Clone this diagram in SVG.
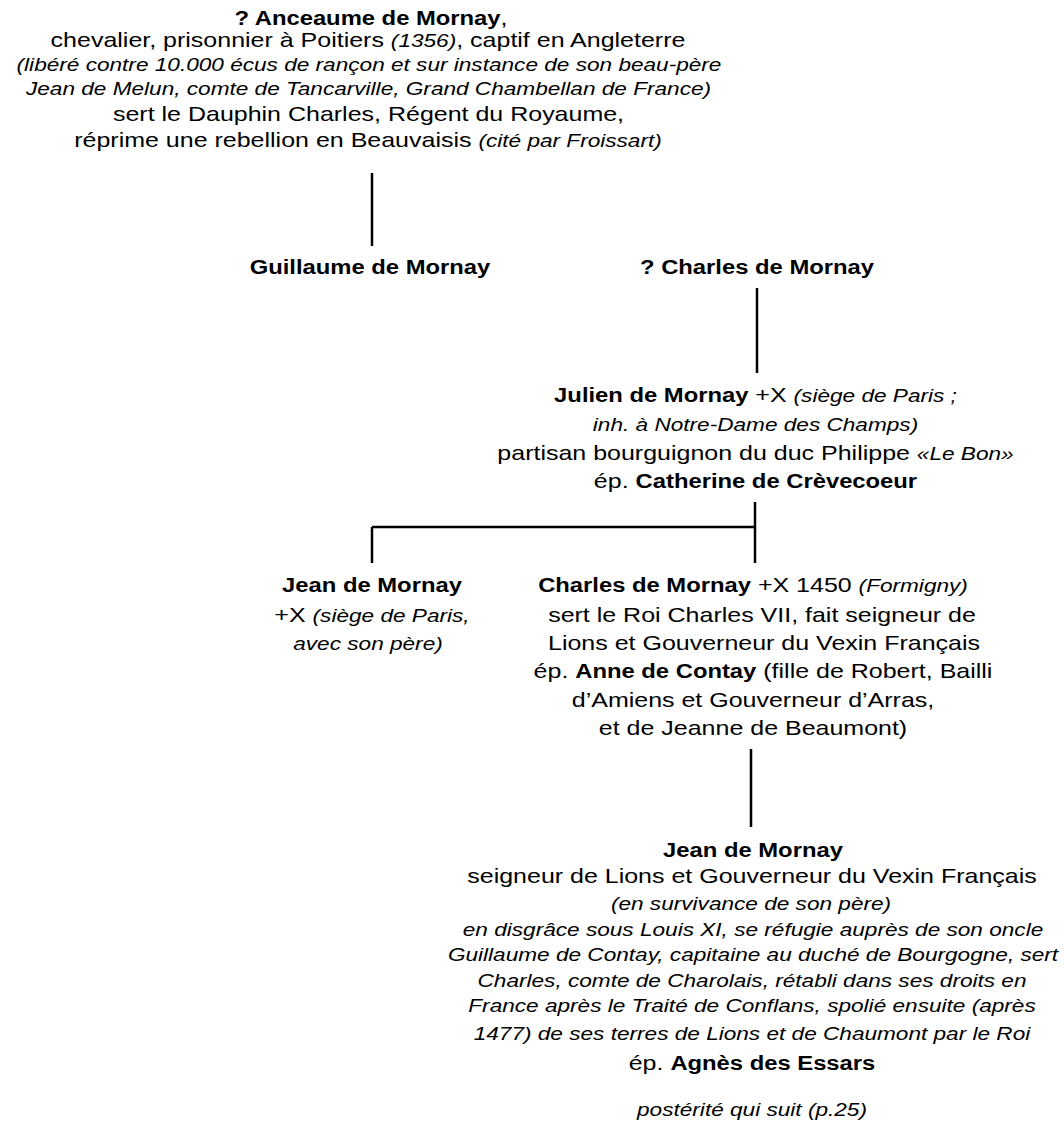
<svg xmlns="http://www.w3.org/2000/svg" width="1064" height="1124" viewBox="0 0 1064 1124">
<style>
.t{font-family:"Liberation Sans",Arial,Helvetica,sans-serif;font-size:21px;fill:#000;text-anchor:middle}
.b{font-weight:bold;font-size:20px}
.i{font-style:italic;font-size:19px}
</style>
<rect width="1064" height="1124" fill="#fff"/>
<g id="connectors" stroke="#000" stroke-width="2.5" fill="none">
<line x1="372" y1="173" x2="372" y2="246"/>
<line x1="757" y1="288" x2="757" y2="373"/>
<line x1="755" y1="502" x2="755" y2="563"/>
<line x1="372" y1="527" x2="755" y2="527"/>
<line x1="372" y1="527" x2="372" y2="563"/>
<line x1="751" y1="749" x2="751" y2="827"/>
</g>
<g id="n-anceaume">
<text class="t" transform="translate(371 25) scale(1.19 1)"><tspan class="b">? Anceaume de Mornay</tspan>,</text>
<text class="t" transform="translate(368 47) scale(1.19 1)">chevalier, prisonnier à Poitiers <tspan class="i">(1356)</tspan>, captif en Angleterre</text>
<text class="t i" transform="translate(369 71) scale(1.19 1)">(libéré contre 10.000 écus de rançon et sur instance de son beau-père</text>
<text class="t i" transform="translate(368.5 95) scale(1.19 1)">Jean de Melun, comte de Tancarville, Grand Chambellan de France)</text>
<text class="t" transform="translate(368.5 121) scale(1.19 1)">sert le Dauphin Charles, Régent du Royaume,</text>
<text class="t" transform="translate(368 147) scale(1.19 1)">réprime une rebellion en Beauvaisis <tspan class="i">(cité par Froissart)</tspan></text>
</g>
<g id="n-guillaume">
<text class="t b" transform="translate(370 274) scale(1.19 1)">Guillaume de Mornay</text>
</g>
<g id="n-charles1">
<text class="t b" transform="translate(757 274) scale(1.19 1)">? Charles de Mornay</text>
</g>
<g id="n-julien">
<text class="t" transform="translate(755.5 402) scale(1.19 1)"><tspan class="b">Julien de Mornay</tspan> +X <tspan class="i">(siège de Paris ;</tspan></text>
<text class="t i" transform="translate(755.5 431) scale(1.19 1)">inh. à Notre-Dame des Champs)</text>
<text class="t" transform="translate(755.5 460) scale(1.19 1)">partisan bourguignon du duc Philippe <tspan class="i">«Le Bon»</tspan></text>
<text class="t" transform="translate(755.5 488) scale(1.19 1)">ép. <tspan class="b">Catherine de Crèvecoeur</tspan></text>
</g>
<g id="n-jean1">
<text class="t b" transform="translate(372 592) scale(1.19 1)">Jean de Mornay</text>
<text class="t" transform="translate(372 622) scale(1.19 1)">+X <tspan class="i">(siège de Paris,</tspan></text>
<text class="t i" transform="translate(368 650) scale(1.19 1)">avec son père)</text>
</g>
<g id="n-charles2">
<text class="t" transform="translate(753 592) scale(1.19 1)"><tspan class="b">Charles de Mornay</tspan> +X 1450 <tspan class="i">(Formigny)</tspan></text>
<text class="t" transform="translate(762 622) scale(1.19 1)">sert le Roi Charles VII, fait seigneur de</text>
<text class="t" transform="translate(764 650) scale(1.19 1)">Lions et Gouverneur du Vexin Français</text>
<text class="t" transform="translate(763 678) scale(1.19 1)">ép. <tspan class="b">Anne de Contay</tspan> (fille de Robert, Bailli</text>
<text class="t" transform="translate(753 707) scale(1.19 1)">d’Amiens et Gouverneur d’Arras,</text>
<text class="t" transform="translate(753 735) scale(1.19 1)">et de Jeanne de Beaumont)</text>
</g>
<g id="n-jean2">
<text class="t b" transform="translate(753 857) scale(1.19 1)">Jean de Mornay</text>
<text class="t" transform="translate(752 883) scale(1.19 1)">seigneur de Lions et Gouverneur du Vexin Français</text>
<text class="t i" transform="translate(751 910) scale(1.19 1)">(en survivance de son père)</text>
<text class="t i" transform="translate(753 936) scale(1.19 1)">en disgrâce sous Louis XI, se réfugie auprès de son oncle</text>
<text class="t i" transform="translate(753 961) scale(1.19 1)">Guillaume de Contay, capitaine au duché de Bourgogne, sert</text>
<text class="t i" transform="translate(752 987) scale(1.19 1)">Charles, comte de Charolais, rétabli dans ses droits en</text>
<text class="t i" transform="translate(752 1012) scale(1.19 1)">France après le Traité de Conflans, spolié ensuite (après</text>
<text class="t i" transform="translate(752 1040) scale(1.19 1)">1477) de ses terres de Lions et de Chaumont par le Roi</text>
<text class="t" transform="translate(752 1070) scale(1.19 1)">ép. <tspan class="b">Agnès des Essars</tspan></text>
<text class="t i" transform="translate(752 1116) scale(1.19 1)">postérité qui suit (p.25)</text>
</g>
</svg>
